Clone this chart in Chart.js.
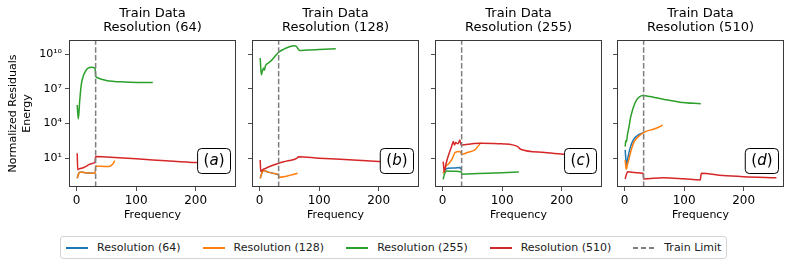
<!DOCTYPE html>
<html>
<head>
<meta charset="utf-8">
<script src="https://cdn.jsdelivr.net/npm/chart.js@4.4.1/dist/chart.umd.min.js"></script>
<style>
  body { margin: 0; background: #fff; }
  #wrap { position: relative; width: 793px; height: 267px; font-family: "DejaVu Sans", sans-serif; }
  #wrap canvas { position: absolute; left: 0; top: 0; }
  #legend { position: absolute; top: 236px; left: 60px; height: 23px; border: 1px solid #d4d4d4; border-radius: 3px;
            display: flex; align-items: center; padding: 0 5px; font-size: 11px; color: #222; box-sizing: border-box; white-space: nowrap; }
  .item { display: flex; align-items: center; margin-right: 22px; }
  .item:last-child { margin-right: 0; }
  .sw { width: 22px; height: 2px; margin-right: 9px; }
</style>
</head>
<body>
<div id="wrap">
  <canvas id="pa" width="793" height="225"></canvas>
  <canvas id="pb" width="793" height="225"></canvas>
  <canvas id="pc" width="793" height="225"></canvas>
  <canvas id="pd" width="793" height="225"></canvas>
  <div id="legend"></div>
</div>
<script>
// series / legend
const seriesNames = ["Resolution (64)", "Resolution (128)", "Resolution (255)", "Resolution (510)"];
const seriesColors = ["#1f77b4", "#ff7f0e", "#2ca02c", "#d62728"];
const trainLimit = [32];
const panelLetters = ["a", "b", "c", "d"];

// axis ticks
const xTicks = [0, 100, 200];
const yTicks = [1e1, 1e4, 1e7, 1e10];
const yTickLabels = ["10\u00b9", "10\u2074", "10\u2077", "10\u00b9\u2070"];

// panel (a): trained on 64
const a64f = [1, 3, 5, 10, 20, 31];
const a64v = [0.186, 0.398, 0.617, 0.603, 0.537, 0.501];
const a128f = [1, 3, 5, 10, 20, 31, 32, 40, 50, 57, 60, 62, 64];
const a128v = [0.186, 0.398, 0.617, 0.603, 0.537, 0.501, 2.14, 2.0, 1.91, 2.14, 2.82, 3.98, 6.31];
const a255f = [1, 3, 5, 8, 12, 16, 20, 25, 31, 32, 34, 50, 80, 110, 128];
const a255v = [3.98e5, 2.51e4, 6.31e5, 2.51e7, 1.58e8, 3.98e8, 6.31e8, 7.08e8, 5.62e8, 1.26e8, 9.33e7, 5.25e7, 3.8e7, 3.47e7, 3.39e7];
const a510f = [1, 2, 4, 8, 12, 16, 20, 25, 31, 32, 50, 100, 150, 200, 255];
const a510v = [26.9, 1.0, 1.2, 1.35, 1.6, 2.0, 2.7, 3.4, 4.47, 14.1, 12.6, 8.91, 6.03, 4.17, 3.16];

// panel (b): trained on 128
const b64f = [1, 3, 6, 15, 25, 31];
const b64v = [0.186, 0.398, 0.851, 0.631, 0.468, 0.398];
const b128f = [1, 3, 6, 15, 25, 31, 33, 45, 55, 64];
const b128v = [0.186, 0.398, 0.851, 0.631, 0.468, 0.398, 0.224, 0.282, 0.38, 0.501];
const b255f = [1, 3, 5, 7, 8, 10, 14, 20, 25, 32, 40, 50, 57, 62, 64, 67, 80, 100, 128];
const b255v = [4.47e9, 1.58e8, 3.98e8, 6.31e8, 3.98e8, 1e9, 1.58e9, 2.82e9, 5.62e9, 1.41e10, 2.51e10, 4.17e10, 5.25e10, 4.47e10, 3.16e10, 2.0e10, 2.24e10, 2.51e10, 2.82e10];
const b510f = [1, 2, 5, 10, 20, 32, 45, 63, 65, 100, 150, 200, 255];
const b510v = [7.08, 0.708, 1.0, 1.32, 2.24, 3.72, 5.62, 10, 13.2, 10, 7.41, 5.25, 3.98];

// panel (c): trained on 255
const c64f = [1, 4, 9, 20, 29, 31];
const c64v = [0.501, 1.0, 1.35, 1.41, 1.55, 1.12];
const c128f = [1, 5, 10, 15, 19, 21, 29, 31, 32, 43, 54, 59, 62, 64];
const c128v = [0.501, 1.91, 3.16, 7.08, 20, 31.6, 37.2, 28.2, 22.4, 33.1, 52.5, 100, 158, 224];
const c255f = [1, 3, 7, 20, 31, 33, 60, 100, 128];
const c255v = [0.151, 0.398, 0.794, 0.741, 0.676, 0.417, 0.468, 0.55, 0.631];
const c510f = [1, 3, 6, 12, 15, 18, 20, 22, 26, 29, 31, 32, 50, 65, 100, 126, 131, 171, 203, 255];
const c510v = [5.13, 0.692, 3.72, 37.2, 100, 275, 141, 224, 174, 380, 141, 141, 178, 200, 174, 100, 60.3, 31.6, 22.4, 17.8];

// panel (d): trained on 510
const d64f = [1, 2, 3, 5, 7, 10, 15, 20, 26, 31];
const d64v = [52.5, 10, 2.63, 7.94, 25.1, 100, 398, 794, 1259, 1585];
const d128f = [1, 2, 3, 5, 7, 10, 15, 20, 26, 32, 35, 48, 58, 62, 64];
const d128v = [7.08, 2.0, 1.12, 3.16, 7.08, 31.6, 200, 501, 1000, 1585, 1995, 3162, 5012, 6310, 7079];
const d255f = [1, 2, 3, 5, 7, 10, 13, 17, 21, 25, 30, 35, 50, 65, 93, 128];
const d255v = [100, 316, 251, 1259, 3981, 3.16e4, 1.26e5, 5.01e5, 1.26e6, 2.0e6, 2.63e6, 2.51e6, 1.78e6, 1.26e6, 6.92e5, 5.01e5];
const d510f = [1, 3, 5, 10, 20, 31, 32, 65, 100, 127, 129, 165, 200, 255];
const d510v = [0.162, 0.398, 0.692, 0.631, 0.562, 0.501, 0.162, 0.209, 0.166, 0.132, 0.501, 0.316, 0.251, 0.209];

const panelFreqs = [[a64f, a128f, a255f, a510f], [b64f, b128f, b255f, b510f], [c64f, c128f, c255f, c510f], [d64f, d128f, d255f, d510f]];
const panelVals = [[a64v, a128v, a255v, a510v], [b64v, b128v, b255v, b510v], [c64v, c128v, c255v, c510v], [d64v, d128v, d255v, d510v]];

// layout
const W = 793, H = 225;
const panelLeft = [69, 252, 435, 617];
const panelWidth = 167;
const plotBottom = 187;
const xMin = -12.75, xMax = 267.75;
const yMin = 0.0327, yMax = 1.62e11;
const FONT = "'DejaVu Sans', sans-serif";

const framePlugin = {
  id: "frame",
  afterDatasetsDraw(chart, args, opts) {
    const { ctx, chartArea: a } = chart;
    ctx.save();
    ctx.strokeStyle = "#3a3a3a";
    ctx.lineWidth = 1;
    ctx.strokeRect(a.left + 0.5, a.top + 0.5, a.width - 1, a.height - 1);

    // (x) label box, bottom right
    const fs = 15;
    ctx.font = fs + "px " + FONT;
    const wp = ctx.measureText("(").width, wq = ctx.measureText(")").width;
    ctx.font = "italic " + fs + "px " + FONT;
    const wl = ctx.measureText(opts.letter).width;
    const bw = wp + wl + wq + 12, bh = 25;
    const bx = a.right - 6 - bw, by = a.bottom - 14 - bh;
    ctx.beginPath();
    ctx.roundRect(bx + 0.5, by + 0.5, bw, bh, 4);
    ctx.fillStyle = "#fff";
    ctx.fill();
    ctx.strokeStyle = "#000";
    ctx.stroke();
    ctx.fillStyle = "#000";
    ctx.textBaseline = "middle";
    let tx = bx + 6.5;
    const ty = by + bh / 2 + 1;
    ctx.font = fs + "px " + FONT;
    ctx.fillText("(", tx, ty); tx += wp;
    ctx.font = "italic " + fs + "px " + FONT;
    ctx.fillText(opts.letter, tx, ty); tx += wl;
    ctx.font = fs + "px " + FONT;
    ctx.fillText(")", tx, ty);
    ctx.restore();
  }
};

function makePanel(i, canvasId) {
  const datasets = seriesNames.map((name, s) => ({
    label: name,
    data: panelFreqs[i][s].map((f, k) => ({ x: f, y: panelVals[i][s][k] })),
    borderColor: seriesColors[s],
    borderWidth: 1.5,
    pointRadius: 0,
    cubicInterpolationMode: "monotone",
    order: 4 - s
  }));
  datasets.push({
    label: "Train Limit",
    data: [{ x: trainLimit[0], y: yMin }, { x: trainLimit[0], y: yMax }],
    borderColor: "#7f7f7f",
    borderWidth: 1.5,
    borderDash: [5.5, 2.4],
    pointRadius: 0,
    order: 0
  });

  const yAxisW = i === 0 ? panelLeft[0] : 6;
  new Chart(document.getElementById(canvasId), {
    type: "line",
    data: { datasets },
    plugins: [framePlugin],
    options: {
      responsive: false,
      animation: false,
      devicePixelRatio: 1,
      layout: { padding: { left: panelLeft[i] - yAxisW, right: W - panelLeft[i] - panelWidth, top: 0, bottom: 0 } },
      plugins: {
        legend: { display: false },
        tooltip: { enabled: false },
        frame: { letter: panelLetters[i] },
        title: {
          display: true,
          fullSize: false,
          text: ["Train Data", seriesNames[i]],
          color: "#000",
          font: { family: FONT, size: 13, weight: "normal", lineHeight: 1.1 },
          padding: { top: 6.5, bottom: 4.9 }
        }
      },
      scales: {
        x: {
          type: "linear",
          min: xMin, max: xMax,
          afterBuildTicks: ax => { ax.ticks = xTicks.map(v => ({ value: v })); },
          afterFit: ax => { ax.height = H - plotBottom; },
          grid: { drawOnChartArea: false, drawTicks: true, tickLength: 4, color: "#222", lineWidth: 0.8 },
          border: { display: false },
          ticks: { font: { family: FONT, size: 12 }, color: "#000", padding: 3, maxRotation: 0 },
          title: { display: true, text: "Frequency", color: "#000", font: { family: FONT, size: 11 }, padding: { top: 0, bottom: 3.2 } }
        },
        y: {
          type: "logarithmic",
          min: yMin, max: yMax,
          afterBuildTicks: ax => { ax.ticks = yTicks.map(v => ({ value: v })); },
          afterFit: ax => { ax.width = yAxisW; },
          grid: { drawOnChartArea: false, drawTicks: true, tickLength: 4, color: "#222", lineWidth: 0.8 },
          border: { display: false },
          ticks: {
            font: { family: FONT, size: 11 }, color: "#000", padding: 3,
            callback: v => i === 0 ? yTickLabels[yTicks.indexOf(v)] : ""
          },
          title: {
            display: i === 0,
            text: ["Normalized Residuals", "Energy"],
            color: "#000",
            font: { family: FONT, size: 11, lineHeight: 1.3 },
            padding: { top: 5.8, bottom: 0 }
          }
        }
      }
    }
  });
}

["pa", "pb", "pc", "pd"].forEach((id, i) => makePanel(i, id));

// legend
const legendItems = seriesNames.map((n, s) => ({ name: n, bg: seriesColors[s] }));
legendItems.push({ name: "Train Limit", bg: "repeating-linear-gradient(to right, #7f7f7f 0 5.5px, transparent 5.5px 8px)" });
const lg = document.getElementById("legend");
legendItems.forEach(it => {
  const el = document.createElement("div");
  el.className = "item";
  const sw = document.createElement("span");
  sw.className = "sw";
  sw.style.background = it.bg;
  const tx = document.createElement("span");
  tx.textContent = it.name;
  el.appendChild(sw);
  el.appendChild(tx);
  lg.appendChild(el);
});
</script>
</body>
</html>
